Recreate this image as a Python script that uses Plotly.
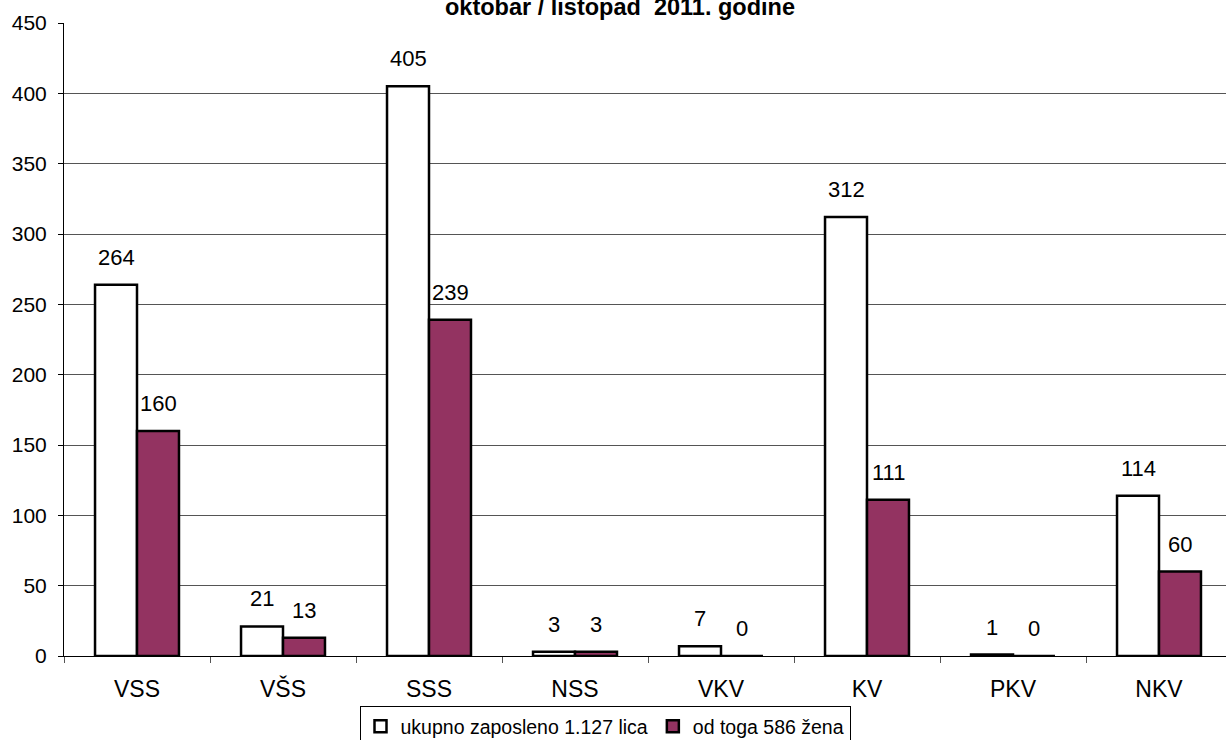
import plotly.graph_objects as go

categories = ["VSS", "VŠS", "SSS", "NSS", "VKV", "KV", "PKV", "NKV"]
total_values = [264, 21, 405, 3, 7, 312, 1, 114]
women_values = [160, 13, 239, 3, 0, 111, 0, 60]
series_names = ["ukupno zaposleno 1.127 lica", "od toga 586 žena"]
title_text = "oktobar / listopad  2011. godine"
y_ticks = [0, 50, 100, 150, 200, 250, 300, 350, 400, 450]

FONT = "Liberation Sans, Arial, sans-serif"
PURPLE = "#933361"
PLOT_W = 1162
PLOT_H = 633

fig = go.Figure()
fig.add_trace(go.Bar(x=categories, y=total_values, name=series_names[0],
                     marker=dict(color="white", line=dict(color="black", width=2.5))))
fig.add_trace(go.Bar(x=categories, y=women_values, name=series_names[1],
                     marker=dict(color=PURPLE, line=dict(color="black", width=2.5))))

annotations = []
for cat, v in zip(categories, total_values):
    annotations.append(dict(x=cat, y=v, xref="x", yref="y", text=str(v), showarrow=False,
                            xshift=-21, yanchor="bottom", yshift=13,
                            font=dict(family=FONT, size=22, color="black")))
for cat, v in zip(categories, women_values):
    annotations.append(dict(x=cat, y=v, xref="x", yref="y", text=str(v), showarrow=False,
                            xshift=21, yanchor="bottom", yshift=13,
                            font=dict(family=FONT, size=22, color="black")))
annotations.append(dict(x=(620 - 64) / PLOT_W, y=1 + 16 / PLOT_H, xref="paper", yref="paper",
                        text="<b>" + title_text + "</b>", showarrow=False,
                        xanchor="center", yanchor="middle",
                        font=dict(family=FONT, size=23.5, color="black")))

fig.update_layout(
    width=1226, height=740,
    margin=dict(l=64, r=0, t=23, b=84, autoexpand=False),
    paper_bgcolor="white", plot_bgcolor="white",
    barmode="group", bargap=0.425, bargroupgap=0,
    font=dict(family=FONT, size=22, color="black"),
    showlegend=True,
    legend=dict(orientation="h", x=(605 - 64) / PLOT_W, xanchor="center",
                y=-50 / PLOT_H, yanchor="top",
                bordercolor="black", borderwidth=1,
                font=dict(family=FONT, size=19.5, color="black"),
                itemwidth=30, tracegroupgap=0, valign="top"),
    annotations=annotations,
    xaxis=dict(range=[-0.5, -0.5 + PLOT_W / 146], showline=True, linecolor="black", linewidth=1,
               ticks="outside", tickson="boundaries", ticklen=6, tickcolor="#555555",
               showgrid=False, ticklabelstandoff=12, tickfont=dict(size=23)),
    yaxis=dict(range=[0, 450], tickvals=y_ticks, showline=True, linecolor="black", linewidth=1,
               ticks="outside", ticklen=5, tickcolor="black",
               showgrid=True, gridcolor="#555555", gridwidth=1,
               zeroline=False, ticklabelstandoff=7, tickfont=dict(size=21)),
)

fig.write_html("out.html", config={"displayModeBar": False},
               post_script="document.body.style.margin='0';")
